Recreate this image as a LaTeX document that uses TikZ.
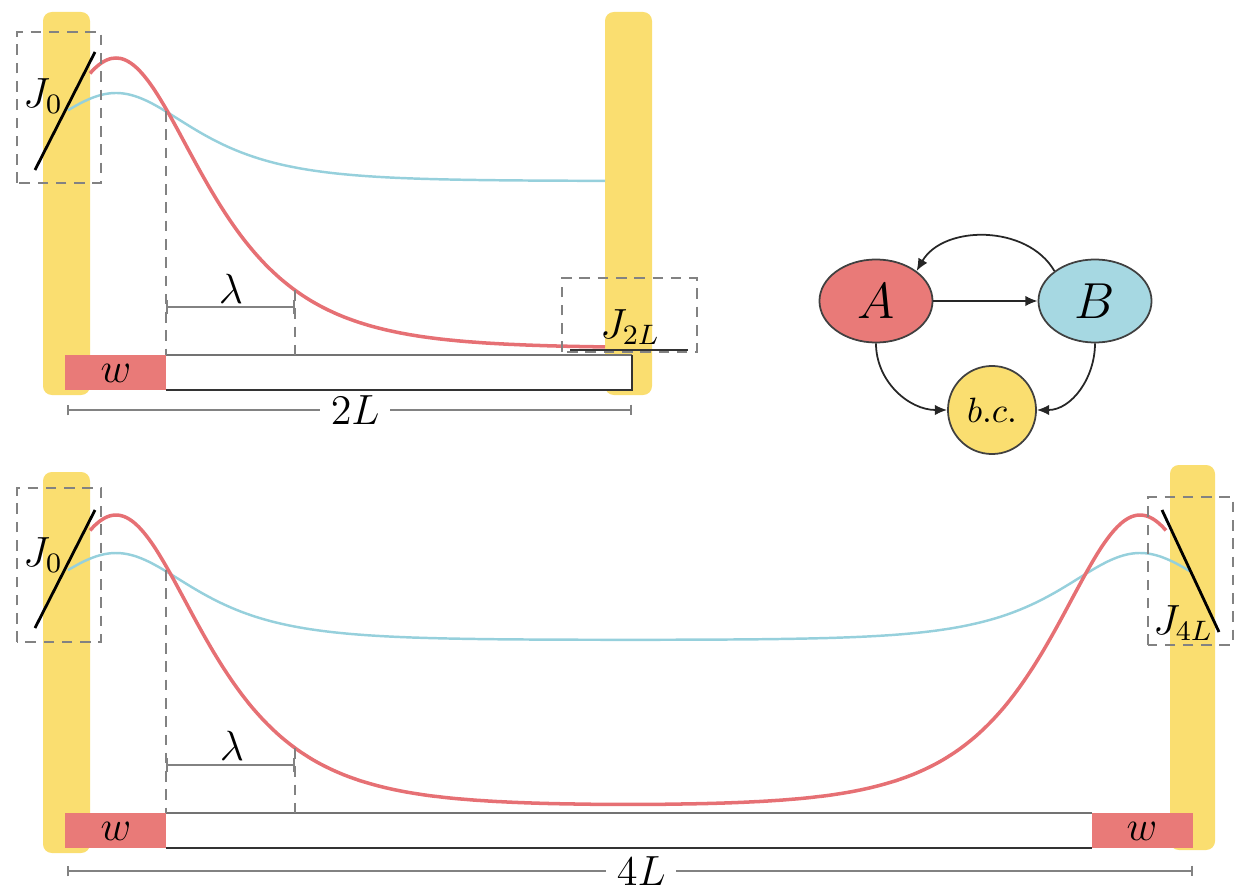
\documentclass[tikz,border=0pt]{standalone}
\usetikzlibrary{arrows.meta,shapes.geometric}
\definecolor{barY}{RGB}{250,222,112}
\definecolor{redC}{RGB}{230,112,116}
\definecolor{redF}{RGB}{233,122,120}
\definecolor{blueC}{RGB}{150,208,220}
\definecolor{blueF}{RGB}{166,216,226}
\definecolor{guideG}{RGB}{130,130,130}
\begin{document}
\begin{tikzpicture}[x=0.01cm,y=0.01cm,
  declare function={mysech(\u)=2*exp(-abs(\u))/(1+exp(-2*abs(\u)));},
  bar/.style={fill=barY, rounded corners=2.5pt},
  redcurve/.style={draw=redC, line width=1pt},
  bluecurve/.style={draw=blueC, line width=0.7pt},
  guide/.style={draw=guideG, line width=0.5pt, dash pattern=on 3pt off 2.2pt},
  dimline/.style={draw=guideG, line width=0.6pt, {Bar[width=4pt]}-{Bar[width=4pt]}},
  tangent/.style={draw=black, line width=0.8pt},
  edgeline/.style={draw=black!70, line width=0.5pt},
  wpart/.style={fill=redF},
  lab/.style={font=\large, inner sep=1pt},
  dimlab/.style={fill=white, font=\large, inner xsep=3pt, inner ysep=0pt},
  gnode/.style={draw=black!75, line width=0.5pt, inner sep=0pt},
  arr/.style={draw=black!85, line width=0.5pt, -{Latex[length=3.5pt,width=3pt]}}
]
\useasboundingbox (0,0) rectangle (1236,890);

% ---------------- top panel ----------------
\fill[bar] (43,495) rectangle (90,878);
\fill[bar] (605,495) rectangle (652,878);
\fill[white] (166,500) rectangle (632,535);
\draw[edgeline, draw=black!55] (166,535) -- (632,535);
\draw[edgeline, draw=black!80, line width=0.8pt] (166,500) -- (632,500) -- (632,535);
\fill[wpart] (65,500) rectangle (166,535);
\node[lab] (w1) at (116,517) {$w$};

\draw[bluecurve] plot[domain=68:605, samples=100, smooth] (\x, {709+88*mysech((\x-116)/70)});
\draw[redcurve] plot[domain=90:605, samples=120, smooth] (\x, {542+290*mysech((\x-116)/78)});

\coordinate (t1a) at (166,779);
\coordinate (t1b) at (166,535);
\coordinate (t2a) at (295,600);
\coordinate (t2b) at (295,535);
\draw[guide] (t1a) -- (t1b);
\draw[guide] (t2a) -- (t2b);
\coordinate (la1) at (166,583);
\coordinate (lb1) at (295,583);
\draw[dimline] (la1) -- (lb1);
\node[lab] (lam1) at (231,601) {$\lambda$};

\coordinate (d2a) at (67,480);
\coordinate (d2b) at (632,480);
\draw[dimline, {Bar[width=3pt]}-{Bar[width=3pt]}] (d2a) -- node[pos=0.51, dimlab] (l2L) {$2L$} (d2b);

\draw[guide] (17,707) rectangle (101,858);
\coordinate (j0s) at (35,720);
\coordinate (j0e) at (95,838);
\draw[tangent] (j0s) -- (j0e);
\node[lab] (j0t) at (43,794) {$J_0$};

\draw[guide] (562,538) rectangle (697,612);
\coordinate (j2s) at (570,540);
\coordinate (j2e) at (688,540);
\draw[tangent, draw=black!80] (j2s) -- (j2e);
\node[lab] (j2t) at (630,563) {$J_{2L}$};

% ---------------- graph ----------------
\node[gnode, ellipse, fill=redF, minimum width=1.13cm, minimum height=0.83cm] (A) at (876,589) {\Large $A$};
\node[gnode, ellipse, fill=blueF, minimum width=1.13cm, minimum height=0.83cm] (B) at (1095,589) {\Large $B$};
\node[gnode, circle, fill=barY, minimum size=0.88cm] (bc) at (992,480) {$b.c.$};
\draw[arr] (A) -- (B);
\draw[arr] (B.north west) to[out=120,in=60] (A.north east);
\draw[arr] (A.south) to[out=-90,in=180] (bc.west);
\draw[arr] (B.south) to[out=-90,in=0] (bc.east);

% ---------------- bottom panel ----------------
\fill[bar] (43,37) rectangle (90,418);
\fill[bar] (1170,40) rectangle (1215,425);
\fill[white] (166,42) rectangle (1092,77);
\draw[edgeline, draw=black!55] (166,77) -- (1092,77);
\draw[edgeline, draw=black!80, line width=0.8pt] (166,42) -- (1092,42);
\fill[wpart] (65,42) rectangle (166,77);
\fill[wpart] (1092,42) rectangle (1193,77);
\node[lab] (w2) at (116,59) {$w$};
\node[lab] (w3) at (1142,59) {$w$};

\draw[bluecurve] plot[domain=68:1190, samples=200, smooth] (\x, {250+87*mysech((\x-116)/70)+87*mysech((\x-1140)/70)});
\draw[redcurve] plot[domain=90:1166, samples=220, smooth] (\x, {84+291*mysech((\x-116)/78)+291*mysech((\x-1140)/78)});

\coordinate (t3a) at (166,320);
\coordinate (t3b) at (166,77);
\coordinate (t4a) at (295,142);
\coordinate (t4b) at (295,77);
\draw[guide] (t3a) -- (t3b);
\draw[guide] (t4a) -- (t4b);
\coordinate (la2) at (166,125);
\coordinate (lb2) at (295,125);
\draw[dimline] (la2) -- (lb2);
\node[lab] (lam2) at (232,144) {$\lambda$};

\coordinate (d4a) at (67,19);
\coordinate (d4b) at (1193,19);
\draw[dimline, {Bar[width=3pt]}-{Bar[width=3pt]}] (d4a) -- node[pos=0.51, dimlab] (l4L) {$4L$} (d4b);

\draw[guide] (17,248) rectangle (101,402);
\coordinate (j0s2) at (35,262);
\coordinate (j0e2) at (95,380);
\draw[tangent] (j0s2) -- (j0e2);
\node[lab] (j0t2) at (43,335) {$J_0$};

\draw[guide] (1148,245) rectangle (1233,393);
\coordinate (j4s) at (1162,380);
\coordinate (j4e) at (1219,258);
\draw[tangent] (j4s) -- (j4e);
\node[lab] (j4t) at (1183,267) {$J_{4L}$};
\end{tikzpicture}
\end{document}
